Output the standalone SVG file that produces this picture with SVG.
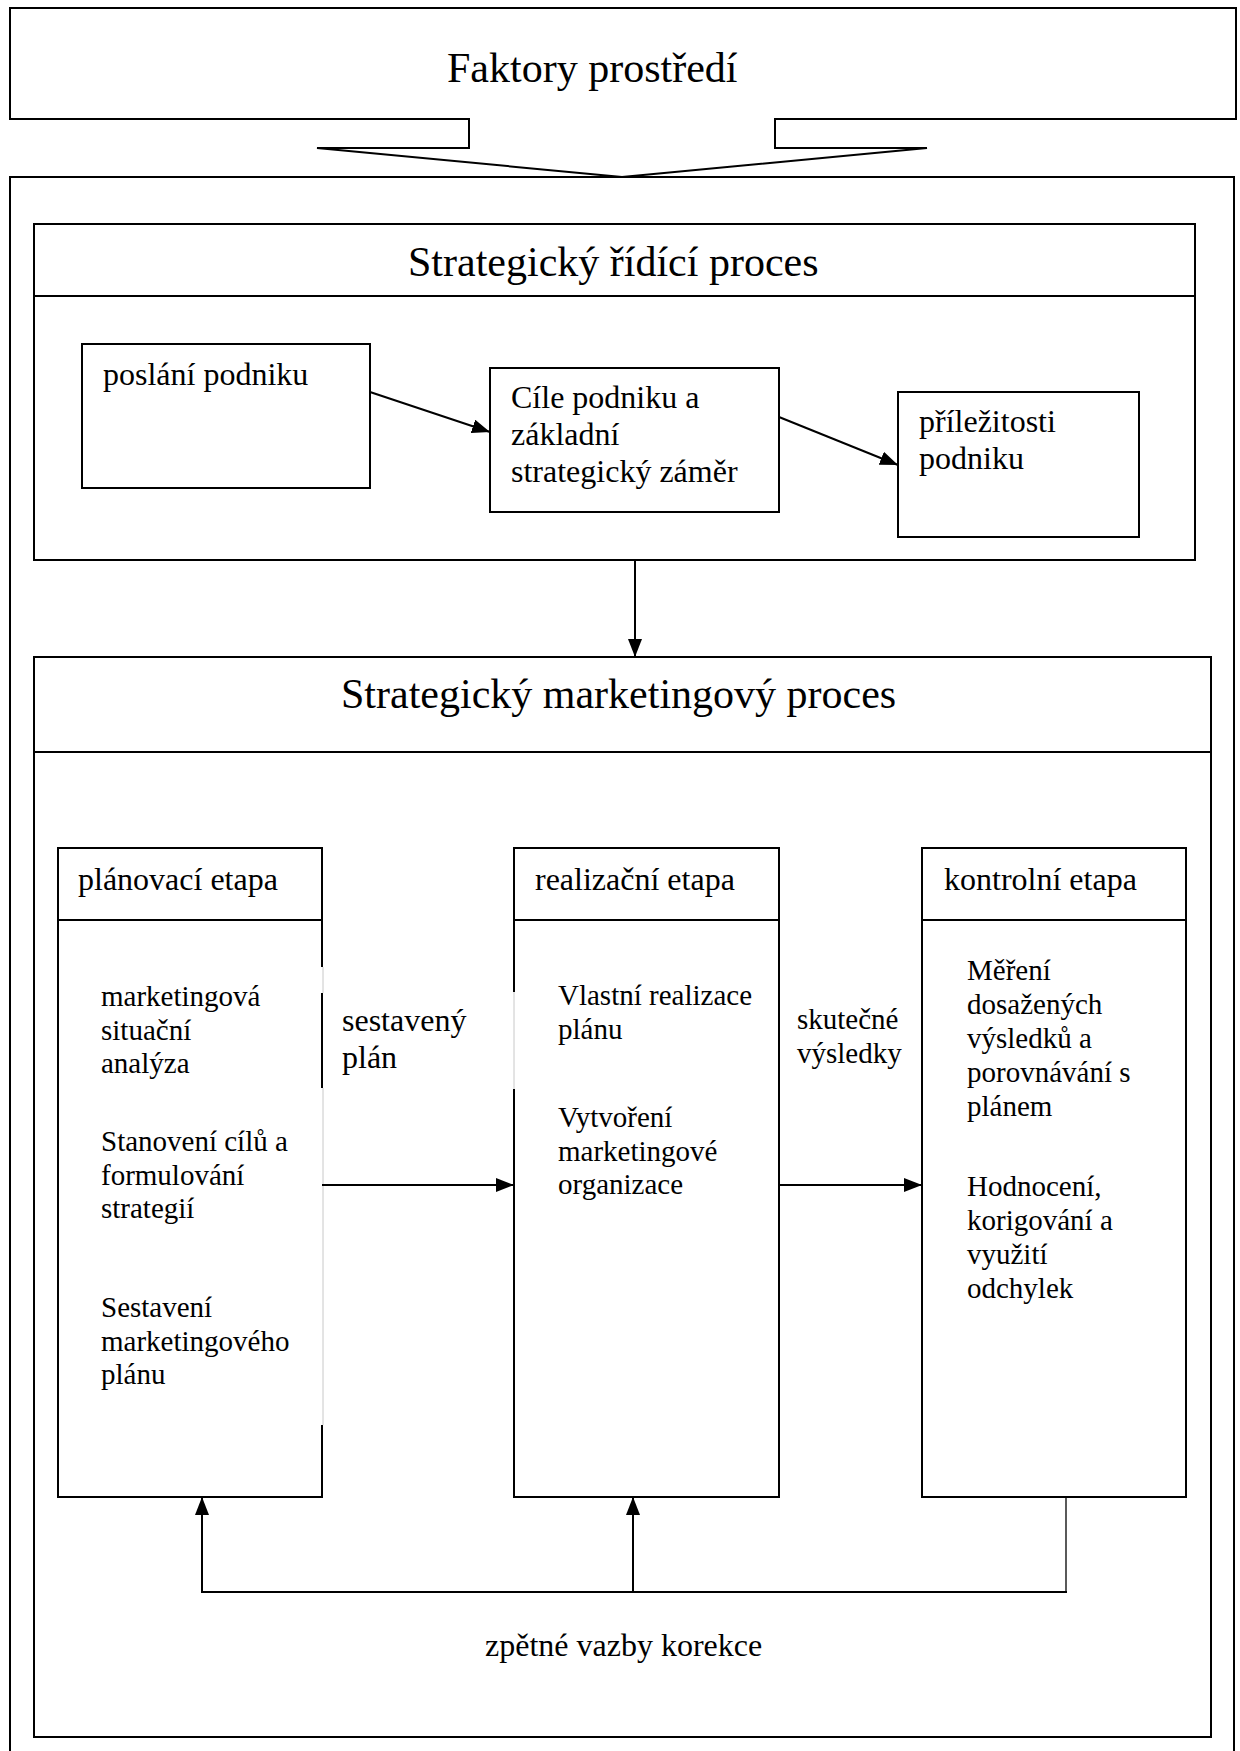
<svg xmlns="http://www.w3.org/2000/svg" width="1240" height="1751" viewBox="0 0 1240 1751">
<style>
.box{fill:#fff;stroke:#000;stroke-width:2}
.ln{fill:none;stroke:#000;stroke-width:2}
.thin{fill:none;stroke:#000;stroke-width:1.3}
.grey{fill:none;stroke:#c8c8c8;stroke-width:1}
.wh{fill:#fff;stroke:none}
text{font-family:"Liberation Serif","Times New Roman",serif;fill:#000}
.t42{font-size:42px}
.t32{font-size:32px}
.t29{font-size:29px}
</style>
<defs>
<marker id="ah" markerUnits="userSpaceOnUse" markerWidth="18" markerHeight="14" refX="18" refY="7" orient="auto">
<path d="M0,0 L18,7 L0,14 Z" fill="#000"/>
</marker>
</defs>
<rect x="0" y="0" width="1240" height="1751" fill="#fff"/>

<g id="faktory">
<path class="box" d="M10,8 H1236 V119 H775 V148 H927 L622,177 L317,148 H469 V119 H10 Z"/>
<text class="t42" x="447" y="82">Faktory prostředí</text>
</g>

<g id="outer">
<path class="ln" d="M10,1760 V177 H1234 V1760"/>
</g>

<g id="strategicky-ridici">
<rect class="box" x="34" y="224" width="1161" height="336"/>
<line class="ln" x1="34" y1="296" x2="1195" y2="296"/>
<text class="t42" x="408" y="276">Strategický řídící proces</text>
</g>

<g id="poslani">
<rect class="box" x="82" y="344" width="288" height="144"/>
<text class="t32" x="103" y="385">poslání podniku</text>
</g>

<g id="cile">
<rect class="box" x="490" y="368" width="289" height="144"/>
<text class="t32" x="511" y="408">Cíle podniku a</text>
<text class="t32" x="511" y="445">základní</text>
<text class="t32" x="511" y="482">strategický záměr</text>
</g>

<g id="prilezitosti">
<rect class="box" x="898" y="392" width="241" height="145"/>
<text class="t32" x="919" y="432">příležitosti</text>
<text class="t32" x="919" y="469">podniku</text>
</g>

<g id="strategicky-marketingovy">
<rect class="box" x="34" y="657" width="1177" height="1080"/>
<line class="ln" x1="34" y1="752" x2="1211" y2="752"/>
<text class="t42" x="341" y="708">Strategický marketingový proces</text>
</g>

<g id="planovaci">
<path class="ln" d="M322,967 V848 H58 V1497 H322 V1425"/>
<line class="ln" x1="58" y1="920" x2="322" y2="920"/>
<line class="ln" x1="322" y1="993" x2="322" y2="1088"/>
<line class="grey" x1="323" y1="967" x2="323" y2="993"/>
<line class="grey" x1="323" y1="1088" x2="323" y2="1425"/>
<text class="t32" x="78" y="890">plánovací etapa</text>
<text class="t29" x="101" y="1006">marketingová</text>
<text class="t29" x="101" y="1039.5">situační</text>
<text class="t29" x="101" y="1073">analýza</text>
<text class="t29" x="101" y="1151">Stanovení cílů a</text>
<text class="t29" x="101" y="1184.5">formulování</text>
<text class="t29" x="101" y="1218">strategií</text>
<text class="t29" x="101" y="1317">Sestavení</text>
<text class="t29" x="101" y="1350.5">marketingového</text>
<text class="t29" x="101" y="1384">plánu</text>
</g>

<g id="sestaveny-plan">
<text class="t32" x="342" y="1031">sestavený</text>
<text class="t32" x="342" y="1068">plán</text>
</g>

<g id="realizacni">
<path class="ln" d="M514,992 V848 H779 V1497 H514 V1089"/>
<line class="ln" x1="514" y1="920" x2="779" y2="920"/>
<line class="grey" x1="514" y1="992" x2="514" y2="1089"/>
<text class="t32" x="535" y="890">realizační etapa</text>
<text class="t29" x="558" y="1005">Vlastní realizace</text>
<text class="t29" x="558" y="1038.5">plánu</text>
<text class="t29" x="558" y="1127">Vytvoření</text>
<text class="t29" x="558" y="1160.5">marketingové</text>
<text class="t29" x="558" y="1194">organizace</text>
</g>

<g id="skutecne-vysledky">
<text class="t29" x="797" y="1029">skutečné</text>
<text class="t29" x="797" y="1062.5">výsledky</text>
</g>

<g id="kontrolni">
<rect class="box" x="922" y="848" width="264" height="649"/>
<line class="ln" x1="922" y1="920" x2="1186" y2="920"/>
<text class="t32" x="944" y="890">kontrolní etapa</text>
<text class="t29" x="967" y="980">Měření</text>
<text class="t29" x="967" y="1014">dosažených</text>
<text class="t29" x="967" y="1048">výsledků a</text>
<text class="t29" x="967" y="1082">porovnávání s</text>
<text class="t29" x="967" y="1116">plánem</text>
<text class="t29" x="967" y="1196">Hodnocení,</text>
<text class="t29" x="967" y="1230">korigování a</text>
<text class="t29" x="967" y="1264">využití</text>
<text class="t29" x="967" y="1298">odchylek</text>
</g>

<g id="zpetne-vazby">
<text class="t32" x="485" y="1656">zpětné vazby korekce</text>
</g>

<g id="connectors">
<line class="ln" x1="370" y1="392" x2="490" y2="432" marker-end="url(#ah)"/>
<line class="ln" x1="779" y1="417" x2="898" y2="465" marker-end="url(#ah)"/>
<line class="ln" x1="635" y1="560" x2="635" y2="657" marker-end="url(#ah)"/>
<line class="ln" x1="322" y1="1185" x2="514" y2="1185" marker-end="url(#ah)"/>
<line class="ln" x1="779" y1="1185" x2="922" y2="1185" marker-end="url(#ah)"/>
<line class="thin" x1="1066" y1="1497" x2="1066" y2="1592"/>
<line class="ln" x1="1067" y1="1592" x2="201" y2="1592" stroke-width="2.5"/>
<line class="ln" x1="202" y1="1592" x2="202" y2="1497" marker-end="url(#ah)"/>
<line class="ln" x1="633" y1="1592" x2="633" y2="1497" marker-end="url(#ah)"/>
</g>
</svg>
